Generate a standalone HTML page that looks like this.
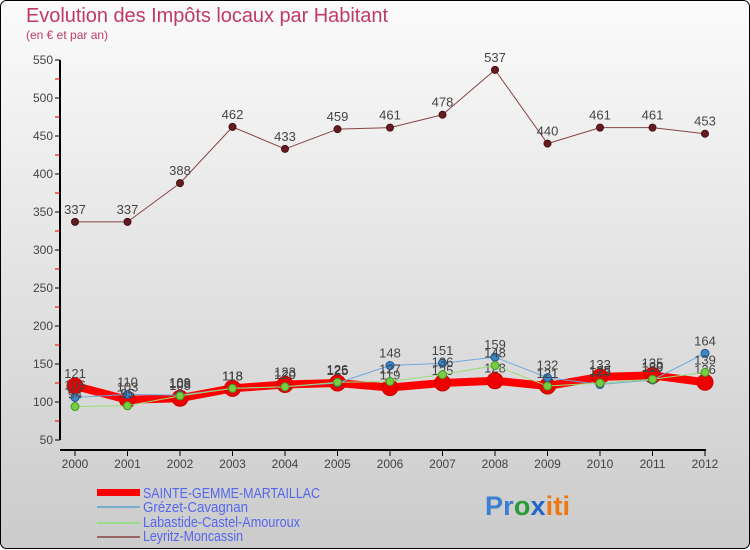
<!DOCTYPE html>
<html><head><meta charset="utf-8"><style>
body{margin:0;width:750px;height:550px;overflow:hidden;font-family:"Liberation Sans",sans-serif}
svg{display:block}
</style></head><body>
<svg id="c" width="750" height="550">
<defs><linearGradient id="bg" x1="0" y1="0" x2="0" y2="1"><stop offset="0" stop-color="#fbfbfb"/><stop offset="1" stop-color="#cbcbcb"/></linearGradient></defs>
<rect x="0.5" y="0.5" width="749" height="548" rx="6" fill="url(#bg)" stroke="#000"/>
<text x="26" y="22" font-size="20" fill="#c03a68" textLength="362">Evolution des Impôts locaux par Habitant</text>
<text x="26" y="39" font-size="12" fill="#c03a68">(en € et par an)</text>
<g id="axes"></g><g id="series"></g>
<g>
<rect x="97" y="489" width="43" height="7" fill="#ff0000"/>
<rect x="97" y="506" width="43" height="2" fill="#7aaed0"/>
<rect x="97" y="522" width="43" height="2" fill="#99dd88"/>
<rect x="97" y="536" width="43" height="2" fill="#996666"/>
<g font-size="15" fill="#5566ee">
<text x="143" y="498" textLength="177" lengthAdjust="spacingAndGlyphs">SAINTE-GEMME-MARTAILLAC</text>
<text x="143" y="512" textLength="105" lengthAdjust="spacingAndGlyphs">Grézet-Cavagnan</text>
<text x="143" y="527" textLength="157" lengthAdjust="spacingAndGlyphs">Labastide-Castel-Amouroux</text>
<text x="143" y="541" textLength="100" lengthAdjust="spacingAndGlyphs">Leyritz-Moncassin</text>
</g></g>
<text x="485" y="515" font-size="27" font-weight="bold" textLength="85"><tspan fill="#3a7fd0">Pr</tspan><tspan fill="#2a9a3a">o</tspan><tspan fill="#2266cc">x</tspan><tspan fill="#ee7711">iti</tspan></text>
</svg>
<script>
const years=["2000","2001","2002","2003","2004","2005","2006","2007","2008","2009","2010","2011","2012"];
const yTicks=[50,100,150,200,250,300,350,400,450,500,550];
const sainteGemme=[121,103,105,118,123,125,119,125,128,121,133,135,126];
const grezet=[106,110,109,118,120,125,148,151,159,132,123,129,164];
const labastide=[94,95,108,118,120,126,127,136,148,121,125,130,139];
const leyritz=[337,337,388,462,433,459,461,478,537,440,461,461,453];
const NS="http://www.w3.org/2000/svg";
const X=i=>75+i*52.5;
const Y=v=>402-(v-100)*0.76;
function mk(tag,attrs,parent,txt){const e=document.createElementNS(NS,tag);for(const k in attrs)e.setAttribute(k,attrs[k]);if(txt!==undefined)e.textContent=txt;parent.appendChild(e);return e;}
const ax=document.getElementById('axes');
let e=mk('line',{x1:60,y1:Y(550),x2:60,y2:Y(50),stroke:'#000','stroke-width':2},ax);

e=mk('line',{x1:60,y1:450,x2:706,y2:450,stroke:'#000','stroke-width':2},ax);

yTicks.forEach((t,i)=>{
  mk('line',{x1:55,y1:Y(t),x2:60,y2:Y(t),stroke:'#000'},ax);
  if(i<yTicks.length-1)mk('line',{x1:55,y1:Y(t+25),x2:60,y2:Y(t+25),stroke:'#d00'},ax);
  const l=mk('text',{x:53,y:Y(t)+4,'font-size':12,fill:'#444','text-anchor':'end'},ax,String(t));
  
});
years.forEach((y,i)=>{
  mk('line',{x1:X(i),y1:450,x2:X(i),y2:456,stroke:'#000'},ax);
  const l=mk('text',{x:X(i),y:468,'font-size':12,fill:'#444','text-anchor':'middle'},ax,y);
  
});
const sg=document.getElementById('series');
function series(name,vals,color,w,r,dot,dotStroke){
  const g=mk('g',{},sg);
  
  const pl=mk('polyline',{points:vals.map((v,i)=>X(i)+','+Y(v)).join(' '),fill:'none',stroke:color,'stroke-width':w,'stroke-linejoin':'round'},g);
  
  vals.forEach((v,i)=>{
    const c=mk('circle',{cx:X(i),cy:Y(v),r:r,fill:dot,stroke:dotStroke,'stroke-width':1},g);
    
    const t=mk('text',{x:X(i),y:Y(v)-8,'font-size':13,fill:'#444','text-anchor':'middle'},g,String(v));
    
  });
}
series('leyritz',leyritz,'#884444',1,3.5,'#661a22','#441111');
series('sainte-gemme',sainteGemme,'#ff0000',8,8,'#ee0000','#cc0000');
series('grezet',grezet,'#6fa8dc',1,4,'#3a88cc','#225588');
series('labastide',labastide,'#99dd77',1,4,'#77cc44','#449922');
</script>
</body></html>
